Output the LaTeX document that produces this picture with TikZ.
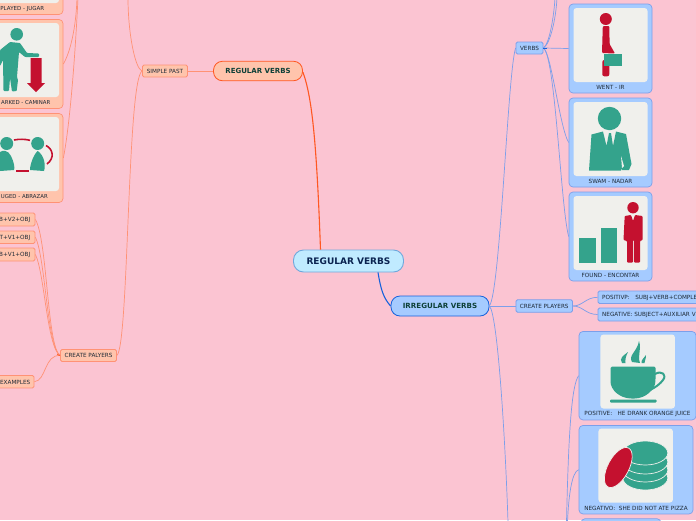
\documentclass[tikz,border=0pt]{standalone}
\usepackage{fontspec}
\setmainfont{DejaVu Sans}
\definecolor{bgp}{HTML}{FBC4D2}
\definecolor{ocard}{HTML}{FFC4AC}
\definecolor{oline}{HTML}{FF9275}
\definecolor{omain}{HTML}{FF5722}
\definecolor{bcard}{HTML}{A5CBFF}
\definecolor{bline}{HTML}{7C9FEA}
\definecolor{bmain}{HTML}{1662DC}
\definecolor{rootf}{HTML}{C0EBFF}
\definecolor{rootl}{HTML}{6FA8DC}
\definecolor{panel}{HTML}{F0F0EC}
\definecolor{teal}{HTML}{34A38C}
\definecolor{crim}{HTML}{C4112F}
\definecolor{txt}{HTML}{1E2A36}
\definecolor{grn}{HTML}{0D4037}
\definecolor{navy}{HTML}{0A2350}
\tikzset{
 x=1pt,y=-1pt,
 small/.style={font=\fontsize{5.7}{7}\selectfont,text=txt,inner sep=0pt},
 obox/.style={draw=oline,fill=ocard,line width=.8pt,rounded corners=1.5pt,inner sep=0pt,small},
 bbox/.style={draw=bline,fill=bcard,line width=.8pt,rounded corners=1.5pt,inner sep=0pt,small},
 ocardst/.style={draw=oline,fill=ocard,line width=.7pt,rounded corners=4pt,inner sep=0pt},
 bcardst/.style={draw=bline,fill=bcard,line width=.7pt,rounded corners=4pt,inner sep=0pt},
 panelst/.style={fill=panel,rounded corners=3pt,inner sep=0pt},
 ol/.style={draw=oline,line width=.7pt},
 bl/.style={draw=bline,line width=.7pt},
}
\newcommand{\boxat}[6]{\node[#1,minimum width=#4pt,minimum height=#5pt] (#2) at (#3) {#6};}
\begin{document}
\begin{tikzpicture}
\useasboundingbox (0,0) rectangle (696,520);
\fill[bgp] (0,0) rectangle (696,520);
\clip (0,0) rectangle (696,520);
% free ends
\coordinate (tl1) at (77,-2);
\coordinate (tl2) at (78,-2);
\coordinate (tl3) at (128,-2);
\coordinate (tr1) at (555,-2);
\coordinate (tr2) at (557,-2);
\coordinate (br0) at (508,522);
\coordinate (br1) at (566.5,522);
\coordinate (br2) at (567.5,522);
% main nodes
\node[draw=rootl,fill=rootf,line width=.9pt,rounded corners=10pt,minimum width=110pt,minimum height=22pt,inner sep=0pt,font=\fontsize{9}{11}\selectfont\bfseries,text=navy] (root) at (348.5,261) {REGULAR VERBS};
\node[draw=omain,fill=ocard,line width=.8pt,rounded corners=9pt,minimum width=89pt,minimum height=19.5pt,inner sep=0pt,font=\fontsize{7}{9}\selectfont\bfseries,text=grn] (reg) at (258,71) {REGULAR VERBS};
\node[draw=bmain,fill=bcard,line width=.8pt,rounded corners=9pt,minimum width=98pt,minimum height=20pt,inner sep=0pt,font=\fontsize{7.1}{9}\selectfont\bfseries,text=grn] (irr) at (440,306) {IRREGULAR VERBS};
\boxat{obox}{past}{165,71}{45}{12}{SIMPLE PAST}
\boxat{obox}{cplay}{88.5,355.5}{56}{12}{CREATE PALYERS}
\boxat{bbox}{verbs}{529.5,48}{27}{12}{VERBS}
\boxat{bbox}{cpl}{544.2,306}{56.5}{12.5}{CREATE PLAYERS}
% left small boxes
\boxat{obox}{la}{10,219.5}{50}{13}{}
\boxat{obox}{lb}{10,237.3}{50}{12.5}{}
\boxat{obox}{lc}{10,254.5}{50}{13}{}
\boxat{obox}{ld}{9,381.7}{50}{12.5}{}
\node[small,anchor=east] (lat) at (30.5,220) {B+V2+OBJ};
\node[small,anchor=east] (lbt) at (30.5,237.5) {T+V1+OBJ};
\node[small,anchor=east] (lct) at (30.5,255) {B+V1+OBJ};
\node[small,anchor=east] (ldt) at (30.5,382) {EXAMPLES};
% right small boxes
\boxat{bbox}{pos}{658,297.3}{120}{12.5}{}
\boxat{bbox}{neg}{658,314.5}{120}{13}{}
\node[small,anchor=west] (post) at (602,298) {POSITIVP:\ \ \ SUBJ+VERB+COMPLE};
\node[small,anchor=west] (negt) at (602,315) {NEGATIVE: SUBJECT+AUXILIAR V};
% left cards
\boxat{ocardst}{c1}{15,-30}{96}{89}{}
\boxat{ocardst}{c2}{15,64}{96}{89}{}
\boxat{ocardst}{c3}{15,158}{96}{89}{}
\boxat{panelst}{p1}{11,-34}{96}{74}{}
\boxat{panelst}{p2}{11,60}{96}{74}{}
\boxat{panelst}{p3}{11,154}{96}{74}{}
\node[small,anchor=east,font=\fontsize{5.5}{7}\selectfont] (t1) at (44.5,8.7) {PLAYED - JUGAR};
\node[small,anchor=east,font=\fontsize{5.4}{7}\selectfont] (t2) at (50.5,102.8) {ARKED - CAMINAR};
\node[small,anchor=east,font=\fontsize{5.4}{7}\selectfont] (t3) at (48,196.8) {UGED - ABRAZAR};
% right cards
\boxat{bcardst}{c4}{610.5,48.5}{83}{89}{}
\boxat{bcardst}{c5}{610.5,142.5}{83}{89}{}
\boxat{bcardst}{c6}{610.5,236.5}{83}{89}{}
\boxat{panelst}{p4}{610.5,45}{74}{74}{}
\boxat{panelst}{p5}{610.5,139}{74}{74}{}
\boxat{panelst}{p6}{610.5,233}{74}{74}{}
\node[small] (t4) at (610.5,87.2) {WENT - IR};
\node[small] (t5) at (610.5,181.2) {SWAM - NADAR};
\node[small] (t6) at (610.5,275.2) {FOUND - ENCONTAR};
\boxat{bcardst}{c7}{637.5,375.7}{117}{88.5}{}
\boxat{bcardst}{c8}{636,469.7}{114}{88.5}{}
\boxat{panelst}{p7}{637.7,371.5}{74.5}{74}{}
\boxat{panelst}{p8}{635.7,465.5}{74.5}{74}{}
\node[small] (t7) at (637.5,414) {POSITIVE:\ \ \ HE DRANK ORANGE JUICE};
\node[small] (t8) at (636,508) {NEGATIVO:\ \ SHE DID NOT ATE PIZZA};
\boxat{bcardst}{c9}{621,563}{80}{88.5}{}
% connectors
\draw[omain,line width=1.1pt] ([xshift=-28pt]root.north) .. controls +(-4,-110) and +(9,25) .. ([yshift=-1pt]reg.east);
\draw[bmain,line width=1.1pt] ([xshift=29.5pt]root.south) .. controls +(3,18) and +(-7,-8) .. (irr.west);
\draw[oline,line width=.8pt] (past.east) -- (reg.west);
\draw[ol] (past.west) .. controls +(-7,-2) and +(0,35) .. (tl3);
\draw[ol] (past.west) .. controls +(-15,9) and +(12,-10) .. (cplay.east);
\draw[ol] (tl1) .. controls +(-1,30) and +(7,-12) .. (c2.east);
\draw[ol] (tl2) .. controls +(-4,80) and +(5,-25) .. (c3.east);
\draw[ol] (cplay.west) .. controls +(-13,-8) and +(12,20) .. (la.east);
\draw[ol] (cplay.west) .. controls +(-13,-8) and +(10,20) .. (lb.east);
\draw[ol] (cplay.west) .. controls +(-13,-8) and +(9,18) .. (lc.east);
\draw[ol] (cplay.west) .. controls +(-16,-1) and +(12,-1) .. (ld.east);
\draw[omain,line width=.7pt] (cplay.west) -- ++(-3,-1);
\draw[bl] (irr.east) .. controls +(11,-15) and +(-8,25) .. (verbs.west);
\draw[bl] (irr.east) .. controls +(8,8) and +(-3,-90) .. (br0);
\draw[bl] (irr.east) -- (cpl.west);
\draw[bl] (verbs.east) -- (c4.west);
\draw[bl] (verbs.east) .. controls +(6,-4) and +(-1,18) .. (tr1);
\draw[bl] (verbs.east) .. controls +(7,-4) and +(-1,20) .. (tr2);
\draw[bl] (verbs.east) .. controls +(8,5) and +(-9,-15) .. (c5.west);
\draw[bl] (verbs.east) .. controls +(12,8) and +(-8,-30) .. (c6.west);
\draw[bmain,line width=.8pt] (verbs.east) -- ++(4,0);
\draw[bl] (cpl.east) .. controls +(10,0) and +(-12,0) .. (pos.west);
\draw[bl] (cpl.east) .. controls +(10,0) and +(-12,0) .. (neg.west);
\draw[bl] (br1) .. controls +(2,-90) and +(-7,9) .. (c7.west);
\draw[bl] (br2) .. controls +(1,-25) and +(-7,2) .. (c8.west);
% icon card 2: man and arrow
\fill[teal] (16.7,34.3) circle (6.3);
\fill[teal,rounded corners=.8pt] (0,50) -- (10,42) -- (20,43) -- (27,53) -- (39,53.5) -- (39,57) -- (25,57) -- (19,52) -- (17,77) -- (18,80) -- (16.7,91) -- (12,91.5) -- (10,78) -- (9,91) -- (3.5,91) -- (3,60) -- (0,66) -- cycle;
\fill[crim] (30.7,58) -- (41.7,58) -- (41.7,83) -- (45,83) -- (36,92) -- (27,83) -- (30.7,83) -- cycle;
% icon card 3: hug
\fill[teal] (6.7,143.5) circle (6.5);
\fill[teal] (37.7,143.5) circle (6.5);
\fill[teal] (0,152) .. controls (3,150) and (8,150) .. (11,156) .. controls (14,162) and (15,168) .. (14,170) -- (0,171) -- cycle;
\fill[teal] (37.7,151) .. controls (34,154) and (30,164) .. (30,170) -- (44,171) .. controls (46,165) and (44,155) .. (37.7,151) -- cycle;
\draw[crim,line width=1.6pt] (14,140) .. controls (19,139) and (25,139) .. (30,140.3);
\draw[crim,line width=1.6pt] (46,145.5) .. controls (53,149) and (55,158) .. (47,164);
\draw[crim,line width=1.6pt] (16,171) -- (29,171);
% icon went
\fill[crim] (605.8,19) circle (6);
\fill[crim,rounded corners=1pt] (602.8,26) -- (609.3,26) -- (609.6,44) -- (615,53.5) -- (602,53) -- cycle;
\fill[crim,rounded corners=2pt] (602.3,60) rectangle (609.3,76.3);
\fill[teal] (604,54) rectangle (621.7,65.7);
% icon swam
\fill[teal] (609.5,118.5) circle (11.7);
\fill[teal] (589,170.5) -- (591.5,134.5) -- (603,131.5) -- (606.5,146) -- (609,133) -- (611,133) -- (613,146) -- (616,131.5) -- (626,134) -- (631.5,164) -- (629,170) -- (622,170) -- (621.5,168) -- (621,170.5) -- cycle;
\fill[panel] (621,156) -- (624,166) -- (622,168) -- cycle;
% icon found
\fill[teal] (579,237.7) rectangle (595.7,262.5);
\fill[teal] (601,227.7) rectangle (617.4,262.5);
\fill[crim] (633,207.7) circle (5.7);
\fill[crim,rounded corners=.8pt] (624.7,216) -- (631,215) -- (633,221) -- (635,215) -- (642.5,216) -- (642.7,240) -- (640,241) -- (640,262.5) -- (634,262.5) -- (634,240) -- (633,240) -- (633,262.5) -- (627,262.5) -- (627,241) -- (623.5,240) -- cycle;
% icon cup
\fill[teal,rounded corners=1.5pt] (610.5,366.5) -- (655.5,366.5) -- (655.5,380) .. controls (655,390) and (645,398.5) .. (633,398.5) .. controls (620,398.5) and (610.5,390) .. (610.5,380) -- cycle;
\draw[teal,line width=2pt] (655,374) .. controls (662,370) and (667,375) .. (663,380) .. controls (660,384) and (656,387) .. (650,390);
\fill[teal,rounded corners=1pt] (610,399.5) rectangle (656.5,402.5);
\fill[teal] (632,362) .. controls (628,355) and (637,352) .. (639,341) .. controls (642,350) and (637,355) .. (640,363) -- cycle;
\fill[teal] (622,363) .. controls (619,358) and (623,356) .. (628,352) .. controls (626,356) and (625,359) .. (625.5,363) -- cycle;
\fill[teal] (641.5,363) .. controls (641,360) and (644,358) .. (646,355) .. controls (646,359) and (644.5,361) .. (644.5,363) -- cycle;
% icon coins
\foreach \yy in {478,470,462,453}{
 \fill[teal,draw=panel,line width=.7pt] (645.3,\yy) ellipse (22.5 and 12);
}
\fill[crim,draw=panel,line width=.7pt] (618.3,467.5) ellipse [x radius=22,y radius=10.5,rotate=62];
\end{tikzpicture}
\end{document}
